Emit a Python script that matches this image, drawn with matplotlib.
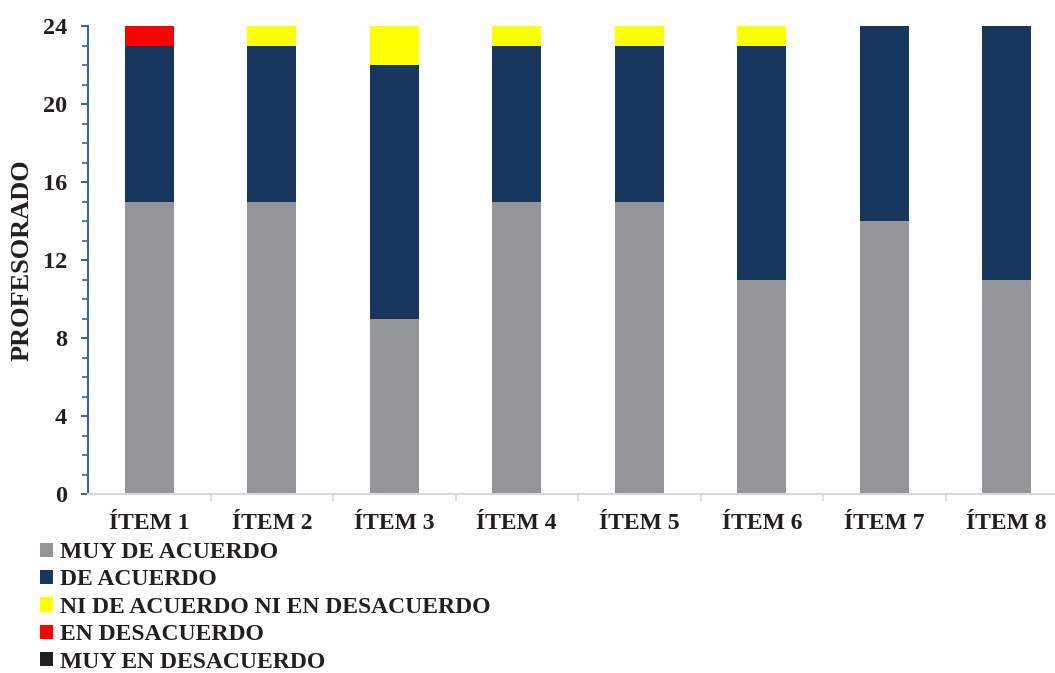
import matplotlib
matplotlib.use("Agg")
import matplotlib.pyplot as plt
import numpy as np
from matplotlib.ticker import MultipleLocator

categories = ["ÍTEM 1", "ÍTEM 2", "ÍTEM 3", "ÍTEM 4", "ÍTEM 5", "ÍTEM 6", "ÍTEM 7", "ÍTEM 8"]
muy_de_acuerdo = [15, 15, 9, 15, 15, 11, 14, 11]
de_acuerdo = [8, 8, 13, 8, 8, 12, 10, 13]
ni_ni = [0, 1, 2, 1, 1, 1, 0, 0]
en_desacuerdo = [1, 0, 0, 0, 0, 0, 0, 0]
muy_en_desacuerdo = [0, 0, 0, 0, 0, 0, 0, 0]

series = [
    ("MUY DE ACUERDO", muy_de_acuerdo, "#939598"),
    ("DE ACUERDO", de_acuerdo, "#17375E"),
    ("NI DE ACUERDO NI EN DESACUERDO", ni_ni, "#FFFF00"),
    ("EN DESACUERDO", en_desacuerdo, "#FF0000"),
    ("MUY EN DESACUERDO", muy_en_desacuerdo, "#231F20"),
]

plt.rcParams['font.family'] = ['Liberation Serif', 'DejaVu Serif']
plt.rcParams['font.weight'] = 'bold'

W, H = 1055, 673
fig = plt.figure(figsize=(W / 100, H / 100), dpi=100)
ax = fig.add_axes([88 / W, 1 - 494 / H, (W - 88) / W, (494 - 26) / H])

x = np.arange(len(categories))
bottom = np.zeros(len(categories))
handles = []
for name, vals, col in series:
    v = np.array(vals, dtype=float)
    b = ax.bar(x, v, 0.4, bottom=bottom, color=col, label=name,
               edgecolor='none', linewidth=0)
    handles.append(b)
    bottom += v

ax.yaxis.set_major_locator(MultipleLocator(4))
ax.yaxis.set_minor_locator(MultipleLocator(1))

for s in ['top', 'right']:
    ax.spines[s].set_visible(False)
ax.spines['left'].set_color('#3D64A0')
ax.spines['left'].set_linewidth(1.5)
ax.spines['bottom'].set_color('#D9D9D9')
ax.spines['bottom'].set_linewidth(1.5)

ax.tick_params(axis='y', which='major', length=5, width=1.5, color='#3D64A0',
               labelsize=17.5, pad=10)
ax.tick_params(axis='y', which='minor', length=4, width=1.2, color='#3D64A0')
ax.set_xticks(x)
ax.set_xticklabels(categories)
ax.tick_params(axis='x', which='major', length=0, labelsize=17, pad=14)
ax.set_xticks(np.arange(0.5, len(categories) - 1, 1), minor=True)
ax.tick_params(axis='x', which='minor', length=5, width=1.2, color='#D9D9D9')

ax.set_xlim(-0.5, -0.5 + (W - 88) / 122.5)
ax.set_ylim(0, 24)

for lab in ax.get_xticklabels() + ax.get_yticklabels():
    lab.set_fontweight('bold')
    lab.set_color('#231F20')

ax.set_ylabel("PROFESORADO", fontsize=19, fontweight='bold', color='#231F20')
ax.yaxis.set_label_coords(-(88 - 34) / (W - 88), 0.5)

fig.legend(handles=handles, labels=[s[0] for s in series],
           loc='upper left', bbox_to_anchor=(40 / W, 1 - 542 / H),
           frameon=False, fontsize=17, handlelength=0.55, handleheight=0.55,
           handletextpad=0.3, labelspacing=0.27, borderpad=0, borderaxespad=0,
           labelcolor='#231F20')

fig.savefig("out.png", dpi=100)
